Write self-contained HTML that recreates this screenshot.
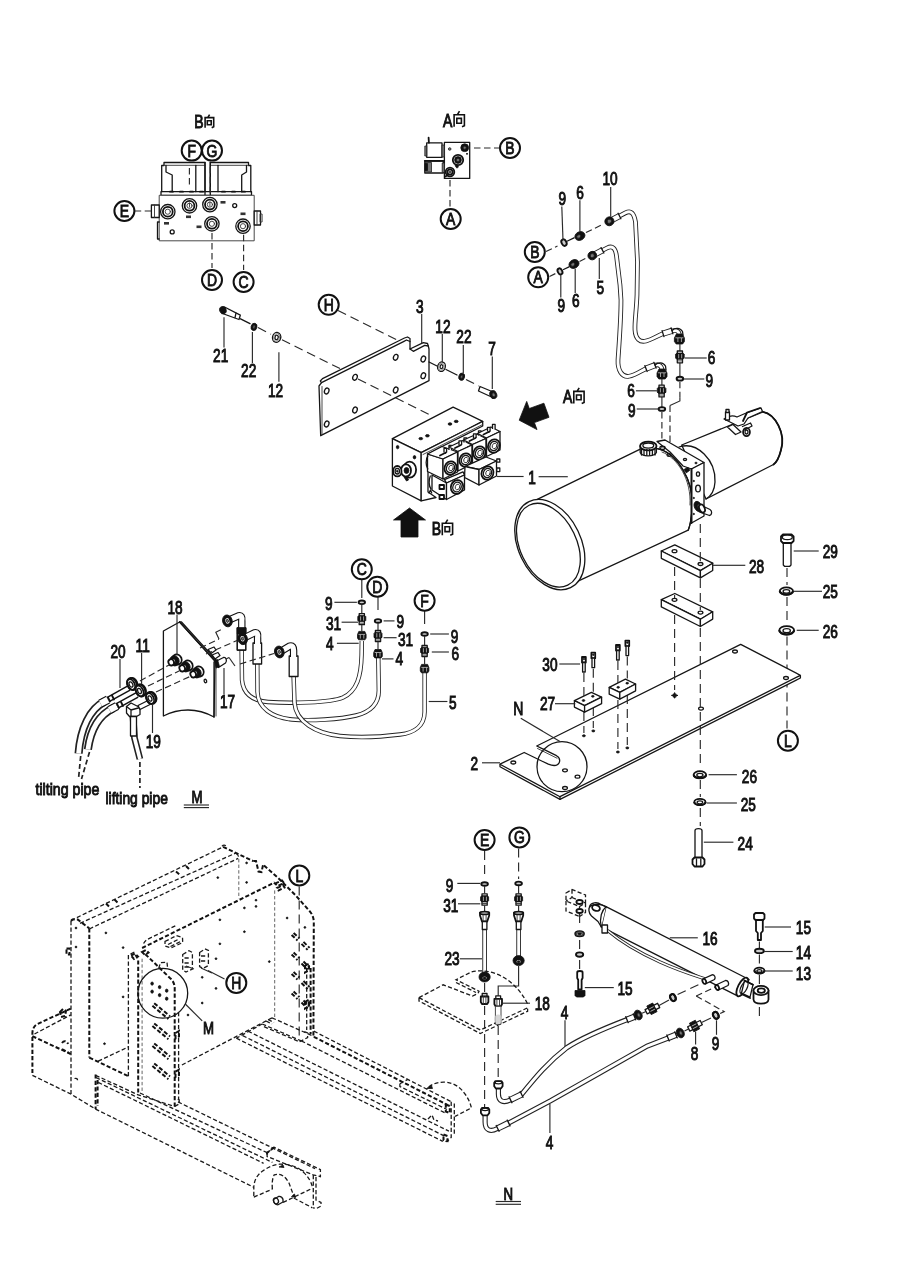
<!DOCTYPE html>
<html><head><meta charset="utf-8"><title>diagram</title>
<style>
html,body{margin:0;padding:0;background:#fff;}
svg{display:block;}
#all{filter:blur(0.5px);}
.l{fill:none;stroke:#151515;stroke-width:1.3;stroke-linecap:round;stroke-linejoin:round}
.lw{fill:#fff;stroke:#151515;stroke-width:1.3;stroke-linejoin:round}
.t{fill:none;stroke:#333;stroke-width:0.9;stroke-linecap:round;stroke-linejoin:round}
.tw{fill:#fff;stroke:#333;stroke-width:0.9;stroke-linejoin:round}
.b{fill:none;stroke:#111;stroke-width:1.8;stroke-linecap:round;stroke-linejoin:round}
.bw{fill:#fff;stroke:#111;stroke-width:1.8;stroke-linejoin:round}
.k{fill:#111;stroke:#111;stroke-width:0.8;stroke-linejoin:round}
.g{fill:#777;stroke:#222;stroke-width:0.8}
.c{fill:#fff;stroke:#111;stroke-width:2}
.o{fill:#ccc;stroke:#111;stroke-width:1.9}
.d{fill:none;stroke:#2a2a2a;stroke-width:1.15;stroke-dasharray:6.5 3.5}
.dd{fill:none;stroke:#2a2a2a;stroke-width:1.15;stroke-dasharray:9 5}
.f{fill:none;stroke:#1a1a1a;stroke-width:1.3;stroke-dasharray:4.2 2.3}
.fb{fill:none;stroke:#111;stroke-width:2;stroke-dasharray:4.2 2.2}
.ft{fill:none;stroke:#555;stroke-width:0.9;stroke-dasharray:3.4 2.2}
.dt{fill:none;stroke:#222;stroke-width:1.7;stroke-dasharray:5 3}
.ld{fill:none;stroke:#2a2a2a;stroke-width:1.15}
.tx{font-family:"Liberation Sans",sans-serif;fill:#111;stroke:#111;stroke-width:0.95}
.xg{fill:none;stroke:#111;stroke-width:1.6}
.h{fill:none;stroke:#222;stroke-width:4.6;stroke-linecap:butt}
.hi{fill:none;stroke:#fff;stroke-width:2.9;stroke-linecap:butt}
.hl{fill:none;stroke:#ddd;stroke-width:0.7}
</style></head><body>
<svg width="900" height="1272" viewBox="0 0 900 1272">
<rect x="0" y="0" width="900" height="1272" fill="#fff"/>
<g id="all">
<!-- B view -->
<text class="tx" transform="translate(194.2 127.8) scale(0.8 1)" font-size="17.5" text-anchor="start">B</text>
<path class="xg" d="M209.6 114.6L207.7 117.6M205.1 127.8L205.1 117.6L213.7 117.6L213.7 126.8L211.7 127.8M207.3 120.7L211.2 120.7L211.2 124.8L207.3 124.8Z"/>
<path class="l" d="M161.7 191.7L161.7 165.5L164 165.5L164 162.5L205 162.5L205 191.7"/>
<path class="l" d="M210.3 191.7L210.3 162.5L248.5 162.5L248.5 165.5L250.8 165.5L250.8 191.7"/>
<path class="t" d="M164 165.3L205 165.3"/>
<path class="t" d="M210.3 165.3L248.5 165.3"/>
<path class="l" d="M166 165.5L166 172L172.2 175L172.2 191.7"/>
<path class="l" d="M246.5 165.5L246.5 172L241.7 175L241.7 191.7"/>
<path class="l" d="M195.8 165.3L195.8 191.7"/>
<path class="l" d="M218 165.3L218 191.7"/>
<path class="l" d="M205 162.5L205 195"/>
<path class="l" d="M210.3 162.5L210.3 195"/>
<path class="l" d="M161 191.7H251.5V195.3H161Z"/>
<path class="b" d="M170 191.7L173 191.7"/>
<path class="b" d="M180 191.7L183 191.7"/>
<path class="b" d="M190 191.7L193 191.7"/>
<path class="b" d="M200 191.7L203 191.7"/>
<path class="b" d="M222 191.7L225 191.7"/>
<path class="b" d="M232 191.7L235 191.7"/>
<path class="b" d="M242 191.7L245 191.7"/>
<path class="tw" d="M159.2 195.3H254.2V240.8H159.2Z"/>
<path class="l" d="M159.2 222L157.5 222L157.5 239L159.2 239"/>
<path class="lw" d="M151.4 205H159.2V217.5H151.4Z"/>
<path class="t" d="M154.5 205L154.5 217.5"/>
<path class="lw" d="M254.2 211H260.5V225H254.2Z"/>
<path class="t" d="M257 211L257 225"/>
<path class="t" d="M260.5 214h1.6v8h-1.6z"/>
<circle class="lw" cx="167.8" cy="211.7" r="7.2"/>
<circle class="b" cx="167.8" cy="211.7" r="4.9"/>
<circle class="t" cx="167.8" cy="211.7" r="2.6"/>
<circle class="lw" cx="189.5" cy="205.8" r="7.2"/>
<circle class="b" cx="189.5" cy="205.8" r="4.9"/>
<circle class="t" cx="189.5" cy="205.8" r="2.6"/>
<circle class="lw" cx="209.9" cy="204.6" r="7.2"/>
<circle class="b" cx="209.9" cy="204.6" r="4.9"/>
<circle class="t" cx="209.9" cy="204.6" r="2.6"/>
<circle class="lw" cx="211.9" cy="223.8" r="7.2"/>
<circle class="b" cx="211.9" cy="223.8" r="4.9"/>
<circle class="t" cx="211.9" cy="223.8" r="2.6"/>
<circle class="lw" cx="243" cy="226.2" r="7.2"/>
<circle class="b" cx="243" cy="226.2" r="4.9"/>
<circle class="t" cx="243" cy="226.2" r="2.6"/>
<circle class="l" cx="234.7" cy="205.6" r="2"/>
<circle class="l" cx="172.2" cy="231.9" r="2"/>
<rect x="164" y="222" width="5" height="2.6" fill="#333"/>
<rect x="186" y="215.5" width="5" height="2.6" fill="#333"/>
<rect x="220.5" y="201" width="5" height="2.6" fill="#333"/>
<rect x="196.5" y="225.5" width="5" height="2.6" fill="#333"/>
<rect x="240.5" y="212.5" width="5" height="2.6" fill="#333"/>
<path class="d" d="M189.4 168L189.4 186"/>
<path class="d" d="M210.3 166.7L210.3 194.4"/>
<path class="t" d="M189.5 203L189.5 207"/>
<path class="t" d="M209.9 202L209.9 206"/>
<path class="d" d="M134.7 211L151.4 211"/>
<path class="d" d="M212 233L212 268"/>
<path class="d" d="M243.6 234.7L243.6 270"/>
<circle class="c" cx="191.7" cy="150.6" r="10"/>
<text class="tx" transform="translate(191.7 156.6) scale(0.82 1)" font-size="17" text-anchor="middle" style="stroke-width:0.9">F</text>
<circle class="c" cx="212" cy="150.6" r="10"/>
<text class="tx" transform="translate(212 156.6) scale(0.82 1)" font-size="17" text-anchor="middle" style="stroke-width:0.9">G</text>
<circle class="c" cx="124.4" cy="211" r="10"/>
<text class="tx" transform="translate(124.4 217) scale(0.82 1)" font-size="17" text-anchor="middle" style="stroke-width:0.9">E</text>
<circle class="c" cx="212" cy="280" r="10"/>
<text class="tx" transform="translate(212 286) scale(0.82 1)" font-size="17" text-anchor="middle" style="stroke-width:0.9">D</text>
<circle class="c" cx="243.6" cy="282" r="10"/>
<text class="tx" transform="translate(243.6 288) scale(0.82 1)" font-size="17" text-anchor="middle" style="stroke-width:0.9">C</text>
<!-- A view -->
<text class="tx" transform="translate(443 127) scale(0.8 1)" font-size="17.5" text-anchor="start">A</text>
<path class="xg" d="M459.5 111.2L457.3 114.8M454.1 126.8L454.1 114.8L464.4 114.8L464.4 125.8L462 126.8M456.8 118.4L461.4 118.4L461.4 123.2L456.8 123.2Z"/>
<path class="lw" d="M444.4 142.4H469.7V178.4H444.4Z"/>
<path class="lw" d="M426.7 142.9H442V157.3H426.7Z"/>
<path class="g" d="M424.8 146H426.7V156H424.8Z"/>
<path class="g" d="M442 145H444.4V157H442Z"/>
<path class="b" d="M428.9 142.7L428.6 137.6"/>
<path class="lw" d="M424.8 161H443.3V173H424.8Z"/>
<path class="g" d="M424.8 162.5H431.5V172H424.8Z"/>
<path class="b" d="M424.8 160.8H443.3"/>
<path class="k" d="M425 163.5h2.5v7h-2.5z"/>
<path class="g" d="M442.2 163H444.4V172.5H442.2Z"/>
<circle class="k" cx="464.7" cy="147.7" r="3.9"/>
<circle class="g" cx="464.7" cy="147.7" r="1.5"/>
<rect x="466" y="153" width="2" height="1.6" fill="#333"/>
<circle class="bw" cx="458" cy="160" r="5.2"/>
<circle class="k" cx="458" cy="160" r="3.4"/>
<circle class="g" cx="458" cy="160" r="1.6"/>
<path class="k" d="M455 165.5l1.8 2.6l1.6 -1l-1 -2.4z"/>
<circle class="bw" cx="450" cy="172" r="4.3"/>
<circle class="b" cx="450" cy="172" r="2.6"/>
<circle class="g" cx="450" cy="172" r="1"/>
<path class="b" d="M445.5 176.5l2 -1.5"/>
<circle class="g" cx="449.7" cy="149" r="1.3"/>
<path class="d" d="M474 148L499 148"/>
<path class="d" d="M450 180L450 208"/>
<circle class="c" cx="510" cy="148" r="10"/>
<text class="tx" transform="translate(510 154) scale(0.82 1)" font-size="17" text-anchor="middle" style="stroke-width:0.9">B</text>
<circle class="c" cx="450.7" cy="219" r="10"/>
<text class="tx" transform="translate(450.7 225) scale(0.82 1)" font-size="17" text-anchor="middle" style="stroke-width:0.9">A</text>
<!-- pipes 10 and 5 -->
<path d="M611.5 220.2L625.5 212.8C631 210 634 213 635.5 222L637.5 262L637 295C636.5 310 634.5 322 635 330C635.5 339 640 342.5 646 341C652 339.5 657 336 663 333.6L671 331.2C676 329.5 679 331 679.4 335" fill="none" stroke="#222" stroke-width="4.7"/>
<path d="M611.5 220.2L625.5 212.8C631 210 634 213 635.5 222L637.5 262L637 295C636.5 310 634.5 322 635 330C635.5 339 640 342.5 646 341C652 339.5 657 336 663 333.6L671 331.2C676 329.5 679 331 679.4 335" fill="none" stroke="#fff" stroke-width="2.9"/>
<path d="M594.5 254.5L607 248C612.5 245.3 615.5 248 616.5 256L620 285L621 300C621 320 619 345 618 360C617.5 370 622 377.5 629 376.3C635 375.3 641 371 646 368.6L654 365.5C658 364 661.5 365 662 370" fill="none" stroke="#222" stroke-width="4.7"/>
<path d="M594.5 254.5L607 248C612.5 245.3 615.5 248 616.5 256L620 285L621 300C621 320 619 345 618 360C617.5 370 622 377.5 629 376.3C635 375.3 641 371 646 368.6L654 365.5C658 364 661.5 365 662 370" fill="none" stroke="#fff" stroke-width="2.9"/>
<path d="M611.5 220.2L619.5 216" stroke="#222" stroke-width="6.2" fill="none"/>
<path d="M611.5 220.2L619.5 216" stroke="#fff" stroke-width="4.4" fill="none"/>
<path class="l" d="M612.9 222.9L610.1 217.5"/>
<path class="l" d="M620.9 218.7L618.1 213.3"/>
<path d="M594.5 254.5L602.5 250.3" stroke="#222" stroke-width="6.2" fill="none"/>
<path d="M594.5 254.5L602.5 250.3" stroke="#fff" stroke-width="4.4" fill="none"/>
<path class="l" d="M595.9 257.2L593.1 251.8"/>
<path class="l" d="M603.9 253L601.1 247.6"/>
<path d="M663 333.6L672 330.8" stroke="#222" stroke-width="6.2" fill="none"/>
<path d="M663 333.6L672 330.8" stroke="#fff" stroke-width="4.4" fill="none"/>
<path class="l" d="M663.9 336.6L662.1 330.6"/>
<path class="l" d="M672.9 333.8L671.1 327.8"/>
<path d="M646 368.6L655 365.2" stroke="#222" stroke-width="6.2" fill="none"/>
<path d="M646 368.6L655 365.2" stroke="#fff" stroke-width="4.4" fill="none"/>
<path class="l" d="M647.1 371.5L644.9 365.7"/>
<path class="l" d="M656.1 368.1L653.9 362.3"/>
<ellipse class="k" cx="609.4" cy="221.3" rx="4.6" ry="4.4" transform="rotate(-27 609.4 221.3)"/>
<ellipse class="g" cx="609.4" cy="221.3" rx="2.1" ry="2" transform="rotate(-27 609.4 221.3)"/>
<ellipse class="k" cx="592.3" cy="255.6" rx="4.4" ry="4.2" transform="rotate(-27 592.3 255.6)"/>
<ellipse class="g" cx="592.3" cy="255.6" rx="2" ry="1.9" transform="rotate(-27 592.3 255.6)"/>
<ellipse class="k" cx="579.9" cy="236" rx="5.2" ry="4.2" transform="rotate(-27 579.9 236)"/>
<ellipse class="g" cx="578.7" cy="236.5" rx="2" ry="1.6" transform="rotate(-27 578.7 236.5)"/>
<ellipse class="k" cx="574" cy="264" rx="5.2" ry="4.2" transform="rotate(-27 574 264)"/>
<ellipse class="g" cx="572.8" cy="264.5" rx="2" ry="1.6" transform="rotate(-27 572.8 264.5)"/>
<ellipse class="o" cx="564" cy="242.6" rx="2.4" ry="3.4" transform="rotate(-27 564 242.6)"/>
<ellipse class="o" cx="560" cy="271.4" rx="2.2" ry="3.2" transform="rotate(-27 560 271.4)"/>
<path class="d" d="M546 251.5L557.5 246"/>
<path class="l" d="M567.5 241L574 237.8"/>
<path class="d" d="M586 232.6L604 223.8"/>
<path class="d" d="M549.5 276.5L556 273.3"/>
<path class="l" d="M563.5 269.5L569 266.8"/>
<path class="d" d="M579.5 261.5L588 257.2"/>
<circle class="c" cx="534.8" cy="252" r="10"/>
<text class="tx" transform="translate(534.8 258) scale(0.82 1)" font-size="17" text-anchor="middle" style="stroke-width:0.9">B</text>
<circle class="c" cx="538.2" cy="277.3" r="10"/>
<text class="tx" transform="translate(538.2 283.3) scale(0.82 1)" font-size="17" text-anchor="middle" style="stroke-width:0.9">A</text>
<text class="tx" transform="translate(602.4 184.8) scale(0.78 1)" font-size="17.5" text-anchor="start">10</text>
<path class="ld" d="M610.7 187L610.7 216.7"/>
<text class="tx" transform="translate(576.3 198.8) scale(0.78 1)" font-size="17.5" text-anchor="start">6</text>
<path class="ld" d="M579.9 200.3L579.9 231.4"/>
<text class="tx" transform="translate(558.6 205) scale(0.78 1)" font-size="17.5" text-anchor="start">9</text>
<path class="ld" d="M561.8 206.6L563 240"/>
<text class="tx" transform="translate(596.5 293.7) scale(0.78 1)" font-size="17.5" text-anchor="start">5</text>
<path class="ld" d="M599.3 257.9L599.3 278.9"/>
<text class="tx" transform="translate(572 306.9) scale(0.78 1)" font-size="17.5" text-anchor="start">6</text>
<path class="ld" d="M575.2 268.8L575.2 292.9"/>
<text class="tx" transform="translate(557.6 311.6) scale(0.78 1)" font-size="17.5" text-anchor="start">9</text>
<path class="ld" d="M560.8 275L560.8 297.6"/>
<path class="k" d="M676.4 334H682.4L684.4 338V341.5L682.6 344H676.2L674.4 341.5V338Z"/>
<path class="hl" d="M677.9 338L677.9 342"/>
<path class="hl" d="M681.4 338L681.4 342"/>
<path class="hl" d="M675.4 337.8L683.4 337.8"/>
<path class="k" d="M659 369H665L667 373V376.5L665.2 379H658.8L657 376.5V373Z"/>
<path class="hl" d="M660.5 373L660.5 377"/>
<path class="hl" d="M664 373L664 377"/>
<path class="hl" d="M658 372.8L666 372.8"/>
<path class="l" d="M672 330.5C675 327.5 680 327.5 682.5 331.5L683 335"/>
<path class="l" d="M655 365C658 362 663 362 665.5 366L666 370"/>
<path class="ld" d="M679.9 344L679.9 351"/>
<path class="ld" d="M679.9 363L679.9 376.5"/>
<path class="ld" d="M661.9 379L661.9 385"/>
<path class="ld" d="M661.9 397L661.9 407"/>
<path class="lw" d="M677.3 351H682.5V362.8H677.3Z"/>
<path class="k" d="M675.6 354.3L676.8 353.1H683L684.2 354.3V358.1L683 359.3H676.8L675.6 358.1Z"/>
<path class="hl" d="M678.7 354.1L678.7 358.3"/>
<path class="hl" d="M681.7 354.1L681.7 358.3"/>
<path class="t" d="M677.3 360.9L682.5 360.9"/>
<path class="lw" d="M659 385.1H664.2V396.9H659Z"/>
<path class="k" d="M657.3 388.4L658.5 387.2H664.7L665.9 388.4V392.2L664.7 393.4H658.5L657.3 392.2Z"/>
<path class="hl" d="M660.4 388.2L660.4 392.4"/>
<path class="hl" d="M663.4 388.2L663.4 392.4"/>
<path class="t" d="M659 395L664.2 395"/>
<ellipse class="o" cx="679.9" cy="378.7" rx="3.3" ry="1.9"/>
<ellipse class="o" cx="661.9" cy="409" rx="3.3" ry="1.9"/>
<text class="tx" transform="translate(707.8 364.4) scale(0.78 1)" font-size="17.5" text-anchor="start">6</text>
<path class="ld" d="M684.9 358L706.7 358"/>
<text class="tx" transform="translate(705.4 386.8) scale(0.78 1)" font-size="17.5" text-anchor="start">9</text>
<path class="ld" d="M684 379L704.3 379"/>
<text class="tx" transform="translate(627.3 397) scale(0.78 1)" font-size="17.5" text-anchor="start">6</text>
<path class="ld" d="M635.9 390.8L656.9 390.8"/>
<text class="tx" transform="translate(628 416.8) scale(0.78 1)" font-size="17.5" text-anchor="start">9</text>
<path class="ld" d="M636.7 409L658.4 409"/>
<path class="d" d="M679.9 381.8L679.9 397.3"/>
<path class="ld" d="M679.9 397.3V401L670 405.5"/>
<path class="d" d="M670 405.5L670 452"/>
<path class="d" d="M661.9 412L661.9 448"/>
<!-- plate 3 -->
<path class="dd" d="M338 310.5L398 340.5"/>
<path class="lw" d="M320.7 435.7L319 386L321.5 382.7L404 341.3L406.5 340L410 341.5L410 349L413.3 351.3L424.7 345.3L428.3 346L429 349L429 380.7Z"/>
<path class="l" d="M321.5 382.7L320.3 381L322.5 378.6L404.5 338L407.5 337L410 338.5V341.5"/>
<path class="l" d="M410 349L423.3 342.7L427.5 343.5L428.3 346"/>
<path class="t" d="M322 386.5V434.5"/>
<ellipse class="l" cx="326.7" cy="391" rx="2.2" ry="3" transform="rotate(20 326.7 391)"/>
<ellipse class="l" cx="326.7" cy="424" rx="2.2" ry="3" transform="rotate(20 326.7 424)"/>
<ellipse class="l" cx="355" cy="377.3" rx="2.2" ry="3" transform="rotate(20 355 377.3)"/>
<ellipse class="l" cx="355" cy="410" rx="2.2" ry="3" transform="rotate(20 355 410)"/>
<ellipse class="l" cx="395.7" cy="357.3" rx="2.2" ry="3" transform="rotate(20 395.7 357.3)"/>
<ellipse class="l" cx="395.7" cy="390" rx="2.2" ry="3" transform="rotate(20 395.7 390)"/>
<ellipse class="l" cx="423.3" cy="359" rx="2.2" ry="3" transform="rotate(20 423.3 359)"/>
<ellipse class="l" cx="423.3" cy="375.7" rx="2.2" ry="3" transform="rotate(20 423.3 375.7)"/>
<path class="l" d="M240.5 318.8L250 323.6"/>
<path class="dd" d="M258 327.6L271 334.2"/>
<path class="dd" d="M282 339.7L340 368.6"/>
<path class="dd" d="M358 379L430 415"/>
<path class="l" d="M429 362L437 366"/>
<path class="l" d="M446 369.5L457 375"/>
<path class="dd" d="M466 379.5L479 386"/>
<path class="lw" d="M224.5 307L240.3 315.2L239 319.5L222.5 313.5Z"/>
<ellipse class="k" cx="222.9" cy="310.2" rx="3.2" ry="3.8" transform="rotate(-20 222.9 310.2)"/>
<path class="l" d="M236 313.2L235 317.6"/>
<ellipse class="k" cx="254" cy="326.9" rx="2.9" ry="3.7" transform="rotate(15 254 326.9)"/>
<ellipse class="g" cx="254" cy="326.9" rx="1" ry="1.6" transform="rotate(15 254 326.9)"/>
<ellipse class="lw" cx="276.6" cy="337.4" rx="4.1" ry="5" transform="rotate(15 276.6 337.4)"/>
<ellipse class="l" cx="276.6" cy="337.4" rx="1.6" ry="2.2" transform="rotate(15 276.6 337.4)"/>
<ellipse cx="276.6" cy="337.4" rx="3" ry="3.8" fill="none" stroke="#888" stroke-width="0.9" transform="rotate(15 276.6 337.4)"/>
<ellipse class="lw" cx="441.5" cy="366.7" rx="3.8" ry="4.8" transform="rotate(15 441.5 366.7)"/>
<ellipse class="l" cx="441.5" cy="366.7" rx="1.4" ry="2" transform="rotate(15 441.5 366.7)"/>
<ellipse cx="441.5" cy="366.7" rx="2.8" ry="3.6" fill="none" stroke="#888" stroke-width="0.9" transform="rotate(15 441.5 366.7)"/>
<ellipse class="k" cx="461.7" cy="376.7" rx="2.9" ry="3.7" transform="rotate(15 461.7 376.7)"/>
<ellipse class="g" cx="461.7" cy="376.7" rx="1" ry="1.5" transform="rotate(15 461.7 376.7)"/>
<path class="lw" d="M480 386.5L492 391.5L490.5 396.5L478.5 391Z"/>
<ellipse class="k" cx="493.3" cy="394.6" rx="3.4" ry="4.2" transform="rotate(-20 493.3 394.6)"/>
<ellipse class="g" cx="493.6" cy="394.8" rx="1.5" ry="2" transform="rotate(-20 493.6 394.8)"/>
<circle class="c" cx="328.7" cy="304.8" r="10"/>
<text class="tx" transform="translate(328.7 310.8) scale(0.82 1)" font-size="17" text-anchor="middle" style="stroke-width:0.9">H</text>
<text class="tx" transform="translate(213.1 361.9) scale(0.78 1)" font-size="17.5" text-anchor="start">21</text>
<path class="ld" d="M224 317.2L224 347.6"/>
<text class="tx" transform="translate(241.1 377.1) scale(0.78 1)" font-size="17.5" text-anchor="start">22</text>
<path class="ld" d="M252.4 332L252.4 363.1"/>
<text class="tx" transform="translate(268 397) scale(0.78 1)" font-size="17.5" text-anchor="start">12</text>
<path class="ld" d="M278.9 352.2L278.9 381.8"/>
<text class="tx" transform="translate(416 312.7) scale(0.78 1)" font-size="17.5" text-anchor="start">3</text>
<path class="ld" d="M421.7 314L421.7 343.3"/>
<text class="tx" transform="translate(435.3 332.7) scale(0.78 1)" font-size="17.5" text-anchor="start">12</text>
<path class="ld" d="M442.3 334L442.3 362.5"/>
<text class="tx" transform="translate(456.3 343.3) scale(0.78 1)" font-size="17.5" text-anchor="start">22</text>
<path class="ld" d="M463.3 345L463.3 373"/>
<text class="tx" transform="translate(488.3 355) scale(0.78 1)" font-size="17.5" text-anchor="start">7</text>
<path class="ld" d="M492.3 356.5L492.3 389"/>
<!-- valve block -->
<path class="lw" d="M392.4 438.6L453.1 407.1L482.7 421.4L421.2 452.6Z"/>
<path class="lw" d="M392.4 438.6L421.2 452.6L421.2 500.8L392.4 486Z"/>
<path class="lw" d="M421.2 452.6L482.7 421.4L482.7 426L440 447.5L428 454L428 492L436 497.5L421.2 500.8Z"/>
<path class="t" d="M423 454.5L482.7 424.5"/>
<ellipse class="k" cx="420.8" cy="438.6" rx="1.9" ry="1.2"/>
<ellipse class="k" cx="427.4" cy="435.8" rx="1.9" ry="1.2"/>
<ellipse class="k" cx="450" cy="424" rx="1.9" ry="1.2"/>
<ellipse class="k" cx="456.2" cy="421.4" rx="1.9" ry="1.2"/>
<ellipse class="k" cx="397.6" cy="447.1" rx="1.3" ry="1.7"/>
<ellipse class="k" cx="414.5" cy="457.2" rx="1.3" ry="1.7"/>
<ellipse class="bw" cx="409.6" cy="469.7" rx="6.5" ry="8"/>
<ellipse class="bw" cx="406" cy="470.5" rx="5" ry="6.2"/>
<ellipse class="k" cx="406.5" cy="470.5" rx="2.4" ry="3"/>
<ellipse class="bw" cx="397.3" cy="471.2" rx="4.2" ry="5.2"/>
<ellipse class="l" cx="397.3" cy="471.2" rx="2.2" ry="2.8"/>
<ellipse class="k" cx="397.3" cy="471.2" rx="0.8" ry="1"/>
<path class="k" d="M404 477L406.5 481L408.5 480L407 476Z"/>
<path class="lw" d="M427.5 454L443 459L443 479L427.5 471.5Z"/>
<path class="lw" d="M427.5 454L442 446.5L457.5 452L443 459Z"/>
<path class="l" d="M427.8 456C425.6 459 425.6 466 427.8 469"/>
<path class="lw" d="M443 459L457.5 452L457.5 472L443 479Z"/>
<ellipse class="bw" cx="450.5" cy="468" rx="5.9" ry="6.8" transform="rotate(20 450.5 468)"/>
<ellipse class="l" cx="450.5" cy="468" rx="4" ry="4.7" transform="rotate(20 450.5 468)"/>
<ellipse class="t" cx="451" cy="468" rx="2.2" ry="2.8" transform="rotate(20 451 468)"/>
<path class="lw" d="M444 452.5v-4.2h2.6v4.2M449 449.9v-4.6h2.6v4.6"/>
<path class="b" d="M440 455.5l6 -3"/>
<path class="lw" d="M458 451.5L472 445L463 440.5L449 447Z"/>
<path class="lw" d="M458 451.5L472 445L472 464L458 471Z"/>
<ellipse class="bw" cx="465.5" cy="460" rx="5.9" ry="6.8" transform="rotate(20 465.5 460)"/>
<ellipse class="l" cx="465.5" cy="460" rx="4" ry="4.7" transform="rotate(20 465.5 460)"/>
<ellipse class="t" cx="466" cy="460" rx="2.2" ry="2.8" transform="rotate(20 466 460)"/>
<path class="lw" d="M459 445v-4.2h2.6v4.2M464 442.4v-4.6h2.6v4.6"/>
<path class="b" d="M455 448l6 -3"/>
<path class="lw" d="M472.5 444.5L486 438.5L477 434L463.5 440Z"/>
<path class="lw" d="M472.5 444.5L486 438.5L486 457L472.5 463.5Z"/>
<ellipse class="bw" cx="479.5" cy="453" rx="5.9" ry="6.8" transform="rotate(20 479.5 453)"/>
<ellipse class="l" cx="479.5" cy="453" rx="4" ry="4.7" transform="rotate(20 479.5 453)"/>
<ellipse class="t" cx="480" cy="453" rx="2.2" ry="2.8" transform="rotate(20 480 453)"/>
<path class="lw" d="M473.5 438v-4.2h2.6v4.2M478.5 435.4v-4.6h2.6v4.6"/>
<path class="b" d="M469.5 441l6 -3"/>
<path class="lw" d="M486.5 438L500 431.5L491 427L477.5 433.5Z"/>
<path class="lw" d="M486.5 438L500 431.5L500 450L486.5 456.5Z"/>
<ellipse class="bw" cx="494" cy="446" rx="5.9" ry="6.8" transform="rotate(20 494 446)"/>
<ellipse class="l" cx="494" cy="446" rx="4" ry="4.7" transform="rotate(20 494 446)"/>
<ellipse class="t" cx="494.5" cy="446" rx="2.2" ry="2.8" transform="rotate(20 494.5 446)"/>
<path class="lw" d="M487.5 431.5v-4.2h2.6v4.2M492.5 428.9v-4.6h2.6v4.6"/>
<path class="b" d="M483.5 434.5l6 -3"/>
<path class="lw" d="M465 466.5L486 457L496.5 461L479 469.5Z"/>
<path class="lw" d="M465 466.5L479 469.5L479 485L464.5 477.5Z"/>
<path class="lw" d="M479 469.5L496.5 461L496.5 476L479 485Z"/>
<ellipse class="bw" cx="487.5" cy="473" rx="5.9" ry="6.8" transform="rotate(20 487.5 473)"/>
<ellipse class="l" cx="487.5" cy="473" rx="4" ry="4.7" transform="rotate(20 487.5 473)"/>
<ellipse class="t" cx="488" cy="473" rx="2.2" ry="2.8" transform="rotate(20 488 473)"/>
<path class="lw" d="M496.8 459h3v3.2h-3zM496.8 468h3v3.6h-3z"/>
<path class="lw" d="M444.5 479.6L463 471.8L464.5 475L446.5 483Z"/>
<path class="lw" d="M432 475L446.5 483L446.5 499.5L432 490Z"/>
<path class="lw" d="M446.5 483L464.5 475L464.5 490L446.5 499.5Z"/>
<ellipse class="bw" cx="457" cy="487" rx="6.1" ry="7" transform="rotate(20 457 487)"/>
<ellipse class="l" cx="457" cy="487" rx="4.1" ry="4.9" transform="rotate(20 457 487)"/>
<ellipse class="t" cx="457.5" cy="487" rx="2.2" ry="2.9" transform="rotate(20 457.5 487)"/>
<path class="bw" d="M439.5 485h4.5v4h-4.5zM439.5 495h4.5v4h-4.5z"/>
<path class="l" d="M430.3 476C428.5 480 428.8 486 431 489"/>
<path class="l" d="M429 493l1.5 -3l1.2 3"/>
<path class="ld" d="M497 476.5L523.6 476.5"/>
<text class="tx" transform="translate(528.3 483.8) scale(0.78 1)" font-size="17.5" text-anchor="start">1</text>
<path class="ld" d="M538.6 476.7L567.8 476.7"/>
<path class="k" d="M519.2 420.2L537 429.6L534.4 422.6L549 417.3L543.9 403.2L529.3 408.5L526.7 401.4Z"/>
<text class="tx" transform="translate(563 403.4) scale(0.8 1)" font-size="17.5" text-anchor="start">A</text>
<path class="xg" d="M579.2 387.8L577 391.4M573.8 403.4L573.8 391.4L584.1 391.4L584.1 402.4L581.7 403.4M576.5 395L581.1 395L581.1 399.8L576.5 399.8Z"/>
<path class="k" d="M409.5 508L393.5 520L401 520L401 537L418 537L418 520L425.5 520Z"/>
<text class="tx" transform="translate(431.7 535.2) scale(0.8 1)" font-size="17.5" text-anchor="start">B</text>
<path class="xg" d="M447.7 519.6L445.5 523.2M442.3 535.2L442.3 523.2L452.6 523.2L452.6 534.2L450.2 535.2M445 526.8L449.6 526.8L449.6 531.6L445 531.6Z"/>
<!-- tank -->
<path class="lw" d="M681.7 445L763 411.8C775 414 786 433 781 450C779 458 777 462 773.5 464.5L706 499Z"/>
<path class="b" d="M763 411.8C775 414 786 433 781 450C779 458 777 462 773.5 464.5"/>
<path class="l" d="M679 447C697 441 716 460 715 482C714.6 490 711 496 706 499"/>
<path class="lw" d="M534.2 500.9L641.8 448.3L656.4 448.3C676 452 695 480 692 510C691.2 520 690 526 688.2 530.2L562.3 588.4Z"/>
<ellipse class="lw" cx="549.8" cy="544.6" rx="47.8" ry="31.3" transform="rotate(64.2 549.8 544.6)"/>
<ellipse class="l" cx="548.4" cy="545.2" rx="44.4" ry="28.2" transform="rotate(64.2 548.4 545.2)"/>
<path class="l" d="M656.4 448.3C676 452 695 480 692 510C691.2 520 690 526 688.2 530.2"/>
<path class="t" d="M662 452C678 458 691.5 480 690 505"/>
<path class="lw" d="M657 441.5L665 440L704 462.5L691.5 469L683 466L670 452Z"/>
<path class="lw" d="M691.5 469L704 462.5L704 516L691.5 523Z"/>
<path class="b" d="M691.5 469L691.5 523"/>
<ellipse class="l" cx="662.5" cy="447.8" rx="2.6" ry="1.7"/>
<ellipse class="l" cx="669" cy="455" rx="2" ry="1.3"/>
<ellipse class="l" cx="685" cy="459.5" rx="1.6" ry="1.1"/>
<ellipse class="k" cx="696" cy="463" rx="1.2" ry="0.8"/>
<ellipse class="l" cx="698" cy="474" rx="1.6" ry="2.2"/>
<ellipse class="l" cx="698" cy="488.5" rx="2.4" ry="3.4"/>
<circle class="k" cx="693.8" cy="481" r="0.7"/>
<circle class="k" cx="693.8" cy="498" r="0.7"/>
<circle class="k" cx="693.8" cy="514" r="0.7"/>
<path class="k" d="M684 469.5l4 -2.2l1.8 3l-3.6 2.6z"/>
<path class="lw" d="M640.2 446V452.5C642 457 654 457 656.4 452.5V446Z"/>
<ellipse class="bw" cx="648.3" cy="446" rx="8.2" ry="4.4"/>
<ellipse class="l" cx="648.3" cy="445.6" rx="5.4" ry="2.6"/>
<path class="l" d="M641.5 449.5L641.5 455"/>
<path class="l" d="M644 449.5L644 455"/>
<path class="l" d="M646.8 449.5L646.8 455"/>
<path class="l" d="M649.6 449.5L649.6 455"/>
<path class="l" d="M652.4 449.5L652.4 455"/>
<path class="l" d="M655 449.5L655 455"/>
<path class="lw" d="M700.5 505L710 509.5C712.5 511 712 515 709.5 515.5L699.5 512Z"/>
<ellipse class="k" cx="698" cy="506.5" rx="3.6" ry="5.4" transform="rotate(-25 698 506.5)"/>
<ellipse class="g" cx="699.6" cy="507.2" rx="1.6" ry="3" transform="rotate(-25 699.6 507.2)"/>
<ellipse class="bw" cx="702" cy="508.5" rx="2.6" ry="4.2" transform="rotate(-25 702 508.5)"/>
<path class="lw" d="M724 419C728 416 733 415 737 417L745 413.5L761 408L762.5 411.5L748 418L744 424L738 426Z"/>
<path class="lw" d="M727.5 427L733 424.5L741 432L735.5 434.5Z"/>
<path class="lw" d="M725.5 412h4v8h-4z"/>
<path class="lw" d="M726 409.5h3v3h-3z"/>
<path class="b" d="M743 421L747 412.5L760 408"/>
<ellipse class="bw" cx="746.5" cy="432" rx="3.4" ry="4.2"/>
<ellipse class="l" cx="746.5" cy="432" rx="1.5" ry="2"/>
<path class="l" d="M742.5 426.5L750.5 423L752 426L744.5 430"/>
<!-- blocks 28 -->
<path class="lw" d="M661.3 599.6L674.8 593.5L712.7 611.8L700.4 619.2Z"/>
<path class="lw" d="M661.3 599.6L700.4 619.2L700.4 626.5L661.3 606.9Z"/>
<path class="lw" d="M700.4 619.2L712.7 611.8L712.7 619.1L700.4 626.5Z"/>
<ellipse class="l" cx="674.5" cy="599.8" rx="2.4" ry="1.5"/>
<ellipse class="l" cx="700.5" cy="612.6" rx="2.4" ry="1.5"/>
<path class="lw" d="M661.3 551L674.8 544.9L712.7 563.2L700.4 570.6Z"/>
<path class="lw" d="M661.3 551L700.4 570.6L700.4 577.9L661.3 558.3Z"/>
<path class="lw" d="M700.4 570.6L712.7 563.2L712.7 570.5L700.4 577.9Z"/>
<ellipse class="l" cx="674.5" cy="551.2" rx="2.4" ry="1.5"/>
<ellipse class="l" cx="700.5" cy="564" rx="2.4" ry="1.5"/>
<path class="ld" d="M730 565.3L745.3 565.3"/>
<path class="ld" d="M713 565.3L730 565.3"/>
<text class="tx" transform="translate(749 572.7) scale(0.78 1)" font-size="17.5" text-anchor="start">28</text>
<!-- bolt 29 etc -->
<path class="lw" d="M783.3 542.5H791V565L789.8 566.3H784.5L783.3 565Z"/>
<path class="bw" d="M781 536.5L783 534.5H791.5L793.6 536.5V541L791.5 543H783L781 541Z"/>
<ellipse class="l" cx="787.3" cy="537.3" rx="5" ry="2.4"/>
<path class="ld" d="M793.7 551L818.7 551"/>
<text class="tx" transform="translate(822.7 558.3) scale(0.78 1)" font-size="17.5" text-anchor="start">29</text>
<path class="dd" d="M787 568L787 585"/>
<path class="dd" d="M787 597L787 625"/>
<path class="dd" d="M787 636.5L787 728.5"/>
<ellipse class="bw" cx="786.4" cy="591" rx="6.6" ry="3.6"/>
<ellipse class="l" cx="786.4" cy="591.4" rx="3.3" ry="1.7"/>
<path d="M779.8 591A6.6 3.6 0 0 0 793 591" fill="none" stroke="#111" stroke-width="2.2"/>
<ellipse class="bw" cx="786.7" cy="630.3" rx="7.4" ry="4.2"/>
<ellipse class="l" cx="786.7" cy="630.7" rx="3.7" ry="2"/>
<path d="M779.3 630.3A7.4 4.2 0 0 0 794.1 630.3" fill="none" stroke="#111" stroke-width="2.2"/>
<path class="ld" d="M793.7 591.3L822 591.3"/>
<text class="tx" transform="translate(822.7 598) scale(0.78 1)" font-size="17.5" text-anchor="start">25</text>
<path class="ld" d="M796.7 630.3L818.7 630.3"/>
<text class="tx" transform="translate(822.7 638) scale(0.78 1)" font-size="17.5" text-anchor="start">26</text>
<circle class="c" cx="787.9" cy="740.7" r="10"/>
<text class="tx" transform="translate(787.9 746.7) scale(0.82 1)" font-size="17" text-anchor="middle" style="stroke-width:0.9">L</text>
<!-- plate 2 -->
<path class="lw" d="M500 764.2L500 766.8L560 799.4L800.4 678L800.4 675.3"/>
<path class="lw" d="M500 764.2L524.2 752.5L548.3 764.2Q557 767.6 559.4 762.2Q560.6 758 556.5 755.7L536.7 746L740.7 644.4L800.4 675.3L560 796.7Z"/>
<path class="l" d="M560 796.7L560 799.4"/>
<path class="t" d="M537.5 748.5L557 758.2"/>
<ellipse class="l" cx="513.3" cy="762.5" rx="2.4" ry="1.5"/>
<ellipse class="l" cx="565" cy="770.3" rx="2.4" ry="1.5"/>
<ellipse class="l" cx="577.5" cy="776.7" rx="2.4" ry="1.5"/>
<ellipse class="l" cx="565" cy="788" rx="2.4" ry="1.5"/>
<ellipse class="l" cx="735" cy="651.5" rx="2.4" ry="1.5"/>
<ellipse class="l" cx="786" cy="678" rx="2.4" ry="1.5"/>
<ellipse class="l" cx="701" cy="708.6" rx="2.4" ry="1.5"/>
<path class="l" d="M671.8 695.4H677.4M674.6 693V697.8"/>
<circle class="l" cx="674.6" cy="695.4" r="1.6"/>
<circle class="l" cx="562" cy="766.7" r="25"/>
<text class="tx" transform="translate(513.3 715) scale(0.8 1)" font-size="17.5" text-anchor="start">N</text>
<path class="ld" d="M520.8 718.3L560 741.5"/>
<path class="ld" d="M482 762.8L500 762.8"/>
<text class="tx" transform="translate(470.5 770) scale(0.78 1)" font-size="17.5" text-anchor="start">2</text>
<ellipse class="k" cx="583.9" cy="735.8" rx="1.5" ry="1"/>
<ellipse class="k" cx="593.3" cy="730.9" rx="1.5" ry="1"/>
<ellipse class="k" cx="617.9" cy="752" rx="1.5" ry="1"/>
<ellipse class="k" cx="627.3" cy="747.9" rx="1.5" ry="1"/>
<path class="dd" d="M583.9 712L583.9 733"/>
<path class="dd" d="M593.3 707L593.3 728"/>
<path class="dd" d="M617.9 700L617.9 749"/>
<path class="dd" d="M627.3 695L627.3 745"/>
<path class="lw" d="M574.4 700.6L591.4 692.3L601.6 697.2L584.6 705.6Z"/>
<path class="lw" d="M574.4 700.6L584.6 705.6L584.6 712.1L574.4 707.1Z"/>
<path class="lw" d="M584.6 705.6L601.6 697.2L601.6 703.7L584.6 712.1Z"/>
<path class="lw" d="M609.2 687.4L625.4 679.1L635.6 684L619.8 692.3Z"/>
<path class="lw" d="M609.2 687.4L619.8 692.3L619.8 699.1L609.2 694.2Z"/>
<path class="lw" d="M619.8 692.3L635.6 684L635.6 690.8L619.8 699.1Z"/>
<ellipse class="k" cx="583.5" cy="700.5" rx="1.3" ry="0.9"/>
<ellipse class="k" cx="592.8" cy="696.3" rx="1.3" ry="0.9"/>
<ellipse class="k" cx="618.2" cy="687.3" rx="1.3" ry="0.9"/>
<ellipse class="k" cx="627.2" cy="683.2" rx="1.3" ry="0.9"/>
<path class="bw" d="M582 657h3.8v5.5h-3.8z"/>
<path class="lw" d="M582.6 662.5h2.6v9.5h-2.6z"/>
<circle class="k" cx="583.9" cy="659" r="0.8"/>
<path class="dd" d="M583.9 673L583.9 697"/>
<path class="bw" d="M591.4 652.7h3.8v5.5h-3.8z"/>
<path class="lw" d="M592 658.2h2.6v9.5h-2.6z"/>
<circle class="k" cx="593.3" cy="654.7" r="0.8"/>
<path class="dd" d="M593.3 668.7L593.3 692.7"/>
<path class="bw" d="M616 645h3.8v5.5h-3.8z"/>
<path class="lw" d="M616.6 650.5h2.6v9.5h-2.6z"/>
<circle class="k" cx="617.9" cy="647" r="0.8"/>
<path class="dd" d="M617.9 661L617.9 683"/>
<path class="bw" d="M625.4 640.6h3.8v5.5h-3.8z"/>
<path class="lw" d="M626 646.1h2.6v9.5h-2.6z"/>
<circle class="k" cx="627.3" cy="642.6" r="0.8"/>
<path class="dd" d="M627.3 656.6L627.3 678.6"/>
<text class="tx" transform="translate(542.3 670.8) scale(0.78 1)" font-size="17.5" text-anchor="start">30</text>
<path class="ld" d="M559.3 664L580.1 664"/>
<text class="tx" transform="translate(540 710) scale(0.78 1)" font-size="17.5" text-anchor="start">27</text>
<path class="ld" d="M555 703.7L575.3 703.7"/>
<ellipse class="bw" cx="699.9" cy="774.7" rx="6.2" ry="3.5"/>
<ellipse class="l" cx="699.9" cy="775.1" rx="3.1" ry="1.7"/>
<path d="M693.7 774.7A6.2 3.5 0 0 0 706.1 774.7" fill="none" stroke="#111" stroke-width="2.2"/>
<ellipse class="bw" cx="699.9" cy="801.9" rx="5.6" ry="3.1"/>
<ellipse class="l" cx="699.9" cy="802.3" rx="2.8" ry="1.5"/>
<path d="M694.3 801.9A5.6 3.1 0 0 0 705.5 801.9" fill="none" stroke="#111" stroke-width="2.2"/>
<path class="ld" d="M708.6 774.7L736.9 774.7"/>
<text class="tx" transform="translate(741.8 783) scale(0.78 1)" font-size="17.5" text-anchor="start">26</text>
<path class="ld" d="M706.7 803L736.9 803"/>
<text class="tx" transform="translate(740.7 810.6) scale(0.78 1)" font-size="17.5" text-anchor="start">25</text>
<path class="lw" d="M695 830.5C695 828 702 828 702 830.5V858H695Z"/>
<path class="bw" d="M692.5 859.5L694.5 857.5H702.5L704.5 859.5V864L702.5 866.5H694.5L692.5 864Z"/>
<path class="l" d="M696.5 859L696.5 865.5"/>
<path class="l" d="M700.8 859L700.8 865.5"/>
<path class="ld" d="M703.8 842.2L733.4 842.2"/>
<text class="tx" transform="translate(737.6 849.5) scale(0.78 1)" font-size="17.5" text-anchor="start">24</text>
<path class="dd" d="M674.6 567L674.6 598"/>
<path class="dd" d="M674.6 615L674.6 690"/>
<path class="dd" d="M700.3 524L700.3 561"/>
<path class="dd" d="M700.3 579L700.3 610"/>
<path class="dd" d="M700.3 628L700.3 768"/>
<path class="dd" d="M700.3 780L700.3 797"/>
<path class="dd" d="M700.3 808L700.3 826"/>
<!-- M detail: plate 18 and hoses -->
<path d="M361.8 641L361.6 655C361.2 676 357 691 343 697.5C330 703 290 703.5 268 702C250 700.5 243 692 242 680L241.5 640" fill="none" stroke="#222" stroke-width="4.4"/>
<path d="M361.8 641L361.6 655C361.2 676 357 691 343 697.5C330 703 290 703.5 268 702C250 700.5 243 692 242 680L241.5 640" fill="none" stroke="#fff" stroke-width="2.7"/>
<path d="M378.3 658L378.8 690C379 704 370 712 356 715.5C340 719.5 310 721 292 719.5C272 717.5 258 708 257.5 692L257.3 664" fill="none" stroke="#222" stroke-width="4.4"/>
<path d="M378.3 658L378.8 690C379 704 370 712 356 715.5C340 719.5 310 721 292 719.5C272 717.5 258 708 257.5 692L257.3 664" fill="none" stroke="#fff" stroke-width="2.7"/>
<path d="M424.6 672L424.6 712C424.6 726 414 733 400 734.5C380 737 355 737.5 340 736C316 733.5 296 722 294.5 703L293.6 676" fill="none" stroke="#222" stroke-width="4.4"/>
<path d="M424.6 672L424.6 712C424.6 726 414 733 400 734.5C380 737 355 737.5 340 736C316 733.5 296 722 294.5 703L293.6 676" fill="none" stroke="#fff" stroke-width="2.7"/>
<path class="lw" d="M237.3 628H245.7V650H237.3Z"/>
<path class="lw" d="M253 643H261.6V664H253Z"/>
<path class="lw" d="M289.2 656H298V676.5H289.2Z"/>
<path d="M230.4 619.4L238.5 615.8Q242.5 614.8 241.8 620.8L241.8 629" fill="none" stroke="#111" stroke-width="7.4" stroke-linejoin="round"/>
<path d="M230.4 619.4L238.5 615.8Q242.5 614.8 241.8 620.8L241.8 629" fill="none" stroke="#fff" stroke-width="5.2" stroke-linejoin="round"/>
<ellipse class="k" cx="227.4" cy="620.9" rx="4.8" ry="6" transform="rotate(-15 227.4 620.9)"/>
<ellipse class="bw" cx="227.4" cy="620.9" rx="2.9" ry="3.7" transform="rotate(-15 227.4 620.9)"/>
<ellipse class="g" cx="227.4" cy="620.9" rx="1.2" ry="1.6" transform="rotate(-15 227.4 620.9)"/>
<path class="lw" d="M237.3 628H245.7V650H237.3Z"/>
<path d="M245.6 637.2L254.5 632.8Q258.5 631.8 257.6 637.8L257.6 644" fill="none" stroke="#111" stroke-width="7.4" stroke-linejoin="round"/>
<path d="M245.6 637.2L254.5 632.8Q258.5 631.8 257.6 637.8L257.6 644" fill="none" stroke="#fff" stroke-width="5.2" stroke-linejoin="round"/>
<ellipse class="k" cx="242.6" cy="638.7" rx="4.8" ry="6" transform="rotate(-15 242.6 638.7)"/>
<ellipse class="bw" cx="242.6" cy="638.7" rx="2.9" ry="3.7" transform="rotate(-15 242.6 638.7)"/>
<ellipse class="g" cx="242.6" cy="638.7" rx="1.2" ry="1.6" transform="rotate(-15 242.6 638.7)"/>
<path d="M282.3 650.5L289.8 646Q293.8 645 293.6 651L293.6 657" fill="none" stroke="#111" stroke-width="7.4" stroke-linejoin="round"/>
<path d="M282.3 650.5L289.8 646Q293.8 645 293.6 651L293.6 657" fill="none" stroke="#fff" stroke-width="5.2" stroke-linejoin="round"/>
<ellipse class="k" cx="279.3" cy="652" rx="4.8" ry="6" transform="rotate(-15 279.3 652)"/>
<ellipse class="bw" cx="279.3" cy="652" rx="2.9" ry="3.7" transform="rotate(-15 279.3 652)"/>
<ellipse class="g" cx="279.3" cy="652" rx="1.2" ry="1.6" transform="rotate(-15 279.3 652)"/>
<path class="k" d="M237.3 628H245.7V634H237.3Z"/>
<ellipse class="o" cx="361.8" cy="602.3" rx="3.2" ry="1.8"/>
<path class="lw" d="M359.2 613.7H364.4V624.7H359.2Z"/>
<path class="k" d="M357.8 616.6L359 615.4H364.6L365.8 616.6V620.4L364.6 621.6H359L357.8 620.4Z"/>
<path class="hl" d="M360.6 616.4L360.6 620.6"/>
<path class="hl" d="M363.6 616.4L363.6 620.6"/>
<path class="t" d="M359.2 623.2L364.4 623.2"/>
<path class="k" d="M358.8 631.4H364.8L366.1 634.6V638.1L365 639.8H358.6L357.5 638.1V634.6Z"/>
<path class="hl" d="M360.3 634.6L360.3 638.6"/>
<path class="hl" d="M363.8 634.6L363.8 638.6"/>
<path class="hl" d="M358.5 634.4L365.1 634.4"/>
<path class="ld" d="M361.8 604.3L361.8 613.2"/>
<path class="ld" d="M361.8 624.7L361.8 631.6"/>
<ellipse class="o" cx="378" cy="620.9" rx="3.2" ry="1.8"/>
<path class="lw" d="M375.4 630.5H380.6V641.5H375.4Z"/>
<path class="k" d="M374 633.4L375.2 632.2H380.8L382 633.4V637.2L380.8 638.4H375.2L374 637.2Z"/>
<path class="hl" d="M376.8 633.2L376.8 637.4"/>
<path class="hl" d="M379.8 633.2L379.8 637.4"/>
<path class="t" d="M375.4 640L380.6 640"/>
<path class="k" d="M375 649.5H381L382.3 652.7V656.2L381.2 657.9H374.8L373.7 656.2V652.7Z"/>
<path class="hl" d="M376.5 652.7L376.5 656.7"/>
<path class="hl" d="M380 652.7L380 656.7"/>
<path class="hl" d="M374.7 652.5L381.3 652.5"/>
<path class="ld" d="M378 622.9L378 630"/>
<path class="ld" d="M378 641.5L378 649.7"/>
<ellipse class="o" cx="424.6" cy="634" rx="3.2" ry="1.8"/>
<path class="lw" d="M422 645.5H427.2V656.5H422Z"/>
<path class="k" d="M420.6 648.4L421.8 647.2H427.4L428.6 648.4V652.2L427.4 653.4H421.8L420.6 652.2Z"/>
<path class="hl" d="M423.4 648.2L423.4 652.4"/>
<path class="hl" d="M426.4 648.2L426.4 652.4"/>
<path class="t" d="M422 655L427.2 655"/>
<path class="k" d="M421.6 664.4H427.6L428.9 667.6V671.1L427.8 672.8H421.4L420.3 671.1V667.6Z"/>
<path class="hl" d="M423.1 667.6L423.1 671.6"/>
<path class="hl" d="M426.6 667.6L426.6 671.6"/>
<path class="hl" d="M421.3 667.4L427.9 667.4"/>
<path class="ld" d="M424.6 636L424.6 645"/>
<path class="ld" d="M424.6 656.5L424.6 664.6"/>
<path class="ld" d="M361.8 580L361.8 598"/>
<path class="ld" d="M378 597L378 610"/>
<path class="ld" d="M424.6 611L424.6 624"/>
<circle class="c" cx="361.8" cy="569.3" r="10"/>
<text class="tx" transform="translate(361.8 575.3) scale(0.82 1)" font-size="17" text-anchor="middle" style="stroke-width:0.9">C</text>
<circle class="c" cx="377.3" cy="586.7" r="10"/>
<text class="tx" transform="translate(377.3 592.7) scale(0.82 1)" font-size="17" text-anchor="middle" style="stroke-width:0.9">D</text>
<circle class="c" cx="424.6" cy="600.7" r="10"/>
<text class="tx" transform="translate(424.6 606.7) scale(0.82 1)" font-size="17" text-anchor="middle" style="stroke-width:0.9">F</text>
<text class="tx" transform="translate(325 609.7) scale(0.78 1)" font-size="17.5" text-anchor="start">9</text>
<path class="ld" d="M334.4 602.3L356.9 602.3"/>
<text class="tx" transform="translate(326 630) scale(0.78 1)" font-size="17.5" text-anchor="start">31</text>
<path class="ld" d="M341.6 622.2L358 622.2"/>
<text class="tx" transform="translate(326 650) scale(0.78 1)" font-size="17.5" text-anchor="start">4</text>
<path class="ld" d="M336.9 643.3L358.7 643.3"/>
<text class="tx" transform="translate(396.6 628) scale(0.78 1)" font-size="17.5" text-anchor="start">9</text>
<path class="ld" d="M383.6 620.9L394.5 620.9"/>
<text class="tx" transform="translate(398 645.8) scale(0.78 1)" font-size="17.5" text-anchor="start">31</text>
<path class="ld" d="M383.6 637.7L396.6 637.7"/>
<text class="tx" transform="translate(395.4 665) scale(0.78 1)" font-size="17.5" text-anchor="start">4</text>
<path class="ld" d="M382 658.9L393.5 658.9"/>
<text class="tx" transform="translate(450.8 642.7) scale(0.78 1)" font-size="17.5" text-anchor="start">9</text>
<path class="ld" d="M430.2 634L448.9 634"/>
<text class="tx" transform="translate(451.4 660) scale(0.78 1)" font-size="17.5" text-anchor="start">6</text>
<path class="ld" d="M431.8 652L448.9 652"/>
<text class="tx" transform="translate(449 709) scale(0.78 1)" font-size="17.5" text-anchor="start">5</text>
<path class="ld" d="M428.7 701.5L447.4 701.5"/>
<path class="lw" d="M163.4 631L179.6 622L215 661L214 717C205 712 196 710 188 710C180 710 171 712 163.4 716Z"/>
<path class="l" d="M179.6 622L181.5 622L216 660L215 661"/>
<path class="l" d="M214 662L214 717"/>
<path class="t" d="M216 661.5L216 716"/>
<path class="l" d="M179.6 622L215 661"/>
<path class="lw" d="M208 649.5l6 -2.5l2 3l-5 3.5z"/>
<path class="lw" d="M212 655l6 -2.5l2 3l-5 3.5z"/>
<path class="lw" d="M216.5 661L223.5 657.5C226 657 227.5 661 225.5 663L218.5 667.5Z"/>
<path class="k" d="M214.5 660.5l3 -1l2 7l-3.4 1.6z"/>
<ellipse class="bw" cx="177" cy="659.5" rx="4.6" ry="5.2" transform="rotate(-20 177 659.5)"/>
<ellipse class="k" cx="174.5" cy="660.8" rx="4.6" ry="5.2" transform="rotate(-20 174.5 660.8)"/>
<ellipse class="bw" cx="173.2" cy="661.4" rx="2.8" ry="3.3" transform="rotate(-20 173.2 661.4)"/>
<ellipse class="bw" cx="171.2" cy="662.3" rx="2.8" ry="3.2" transform="rotate(-20 171.2 662.3)"/>
<ellipse class="bw" cx="188" cy="665.5" rx="4.6" ry="5.2" transform="rotate(-20 188 665.5)"/>
<ellipse class="k" cx="185.5" cy="666.8" rx="4.6" ry="5.2" transform="rotate(-20 185.5 666.8)"/>
<ellipse class="bw" cx="184.2" cy="667.4" rx="2.8" ry="3.3" transform="rotate(-20 184.2 667.4)"/>
<ellipse class="bw" cx="182.2" cy="668.3" rx="2.8" ry="3.2" transform="rotate(-20 182.2 668.3)"/>
<ellipse class="bw" cx="199" cy="671.5" rx="4.6" ry="5.2" transform="rotate(-20 199 671.5)"/>
<ellipse class="k" cx="196.5" cy="672.8" rx="4.6" ry="5.2" transform="rotate(-20 196.5 672.8)"/>
<ellipse class="bw" cx="195.2" cy="673.4" rx="2.8" ry="3.3" transform="rotate(-20 195.2 673.4)"/>
<ellipse class="bw" cx="193.2" cy="674.3" rx="2.8" ry="3.2" transform="rotate(-20 193.2 674.3)"/>
<ellipse class="l" cx="205.4" cy="681" rx="1.2" ry="1.8" transform="rotate(-20 205.4 681)"/>
<path class="d" d="M140 681L169 665"/>
<path class="d" d="M148 686L180 670.5"/>
<path class="d" d="M156 692L190 676.5"/>
<path class="d" d="M200 648L219 639"/>
<path class="ld" d="M219 639l-3.2 -6.8l5 -2.4"/>
<path class="d" d="M206 654L237 640.5"/>
<path class="d" d="M226 659L229 657.5"/>
<path class="ld" d="M229 657.5l6 8.5"/>
<path class="d" d="M240 664L274 653.5"/>
<path d="M104.5 701.5C90 709 80.5 728 78.6 753.5" fill="none" stroke="#222" stroke-width="8.2"/>
<path d="M104.5 701.5C90 709 80.5 728 78.6 753.5" fill="none" stroke="#fff" stroke-width="4.8"/>
<path d="M113.5 708C99 715 90.5 730 87.9 749.5" fill="none" stroke="#222" stroke-width="8.2"/>
<path d="M113.5 708C99 715 90.5 730 87.9 749.5" fill="none" stroke="#fff" stroke-width="4.8"/>
<path d="M133 716L134.5 738L139.9 759" fill="none" stroke="#222" stroke-width="6.8"/>
<path d="M133 716L134.5 738L139.9 759" fill="none" stroke="#fff" stroke-width="3.6"/>
<path d="M100.5 703.5L108 699.6" stroke="#111" stroke-width="8.6" fill="none"/>
<path d="M100.5 703.5L108 699.6" stroke="#fff" stroke-width="6.3999999999999995" fill="none"/>
<path d="M109.5 710L117 706" stroke="#111" stroke-width="8.6" fill="none"/>
<path d="M109.5 710L117 706" stroke="#fff" stroke-width="6.3999999999999995" fill="none"/>
<path d="M108 699.6L129 688" stroke="#111" stroke-width="6.2" fill="none"/>
<path d="M108 699.6L129 688" stroke="#fff" stroke-width="3.2" fill="none"/>
<path d="M117 706L137 695" stroke="#111" stroke-width="6.2" fill="none"/>
<path d="M117 706L137 695" stroke="#fff" stroke-width="3.2" fill="none"/>
<path class="b" d="M108 697.5l2 4M117 704l2 4M112 695.5l2 4M121 702l2 4"/>
<path class="lw" d="M126.5 706.5L131 703L140 707.5V714.5L136.5 716.5H129.5L126.5 713Z"/>
<path class="l" d="M131 710L140 707.5M131 710V716.5M131 710L126.5 706.5"/>
<path class="lw" d="M138 705.5L148 700.5L150 704.5L140 709.5Z"/>
<path class="lw" d="M130.5 716.5H136.5V736H130.5Z"/>
<ellipse class="bw" cx="133.5" cy="683.2" rx="3.6" ry="5.6" transform="rotate(-25 133.5 683.2)"/>
<ellipse class="bw" cx="131" cy="684.5" rx="3.6" ry="5.6" transform="rotate(-25 131 684.5)"/>
<ellipse class="l" cx="131" cy="684.5" rx="1.7" ry="2.8" transform="rotate(-25 131 684.5)"/>
<ellipse cx="132" cy="684" rx="4.4" ry="6.4" fill="none" stroke="#111" stroke-width="1.8" transform="rotate(-25 132 684)"/>
<ellipse class="bw" cx="142" cy="689.7" rx="3.6" ry="5.6" transform="rotate(-25 142 689.7)"/>
<ellipse class="bw" cx="139.5" cy="691" rx="3.6" ry="5.6" transform="rotate(-25 139.5 691)"/>
<ellipse class="l" cx="139.5" cy="691" rx="1.7" ry="2.8" transform="rotate(-25 139.5 691)"/>
<ellipse cx="140.5" cy="690.5" rx="4.4" ry="6.4" fill="none" stroke="#111" stroke-width="1.8" transform="rotate(-25 140.5 690.5)"/>
<ellipse class="bw" cx="152.5" cy="697.2" rx="3.6" ry="5.6" transform="rotate(-25 152.5 697.2)"/>
<ellipse class="bw" cx="150" cy="698.5" rx="3.6" ry="5.6" transform="rotate(-25 150 698.5)"/>
<ellipse class="l" cx="150" cy="698.5" rx="1.7" ry="2.8" transform="rotate(-25 150 698.5)"/>
<ellipse cx="151" cy="698" rx="4.4" ry="6.4" fill="none" stroke="#111" stroke-width="1.8" transform="rotate(-25 151 698)"/>
<path class="dt" d="M80.7 756L78.5 779"/>
<path class="dt" d="M89.5 752L81.5 779"/>
<path class="dt" d="M139.9 762L139.9 788"/>
<text class="tx" transform="translate(167.5 613.8) scale(0.78 1)" font-size="17.5" text-anchor="start">18</text>
<path class="ld" d="M177 614.4L177 655"/>
<text class="tx" transform="translate(110.4 658.4) scale(0.78 1)" font-size="17.5" text-anchor="start">20</text>
<path class="ld" d="M120 659L120 688"/>
<text class="tx" transform="translate(135.6 652) scale(0.78 1)" font-size="17.5" text-anchor="start">11</text>
<path class="ld" d="M141.6 653L141.6 684"/>
<text class="tx" transform="translate(220 708) scale(0.78 1)" font-size="17.5" text-anchor="start">17</text>
<path class="ld" d="M224 668L224 694"/>
<text class="tx" transform="translate(145.7 747.6) scale(0.78 1)" font-size="17.5" text-anchor="start">19</text>
<path class="ld" d="M152.5 704L152.5 733"/>
<text class="tx" transform="translate(35.5 795) scale(0.86 1)" font-size="16.5" text-anchor="start">tilting pipe</text>
<text class="tx" transform="translate(105.5 804) scale(0.84 1)" font-size="16.5" text-anchor="start">lifting pipe</text>
<text class="tx" transform="translate(191.5 803) scale(0.8 1)" font-size="16.5" text-anchor="start">M</text>
<path class="ld" d="M183.8 805L209 805"/>
<path class="ld" d="M183.8 807.6L209 807.6"/>
<!-- E / G columns -->
<circle class="c" cx="484.6" cy="840" r="10"/>
<text class="tx" transform="translate(484.6 846) scale(0.82 1)" font-size="17" text-anchor="middle" style="stroke-width:0.9">E</text>
<circle class="c" cx="519.4" cy="837.4" r="10"/>
<text class="tx" transform="translate(519.4 843.4) scale(0.82 1)" font-size="17" text-anchor="middle" style="stroke-width:0.9">G</text>
<path class="dd" d="M484.6 851L484.6 879"/>
<path class="dd" d="M518.6 848.5L518.6 879"/>
<ellipse class="o" cx="484.6" cy="884" rx="3.3" ry="1.8"/>
<ellipse class="o" cx="518.6" cy="883.4" rx="3.3" ry="1.8"/>
<path class="lw" d="M482 893.8H487.2V905.2H482Z"/>
<path class="k" d="M480.6 896.9L481.8 895.7H487.4L488.6 896.9V900.7L487.4 901.9H481.8L480.6 900.7Z"/>
<path class="hl" d="M483.4 896.7L483.4 900.9"/>
<path class="hl" d="M486.4 896.7L486.4 900.9"/>
<path class="t" d="M482 903.5L487.2 903.5"/>
<path class="ld" d="M484.6 886L484.6 893.5"/>
<path class="ld" d="M484.6 905.5L484.6 912"/>
<path class="bw" d="M480 912.6H489.2V915.5L487.2 921.5H482L480 915.5Z"/>
<ellipse class="bw" cx="484.6" cy="913" rx="4.6" ry="1.4"/>
<path class="t" d="M483.1 915.5L483.1 921"/>
<path class="t" d="M486.1 915.5L486.1 921"/>
<path class="lw" d="M516 893.8H521.2V905.2H516Z"/>
<path class="k" d="M514.6 896.9L515.8 895.7H521.4L522.6 896.9V900.7L521.4 901.9H515.8L514.6 900.7Z"/>
<path class="hl" d="M517.4 896.7L517.4 900.9"/>
<path class="hl" d="M520.4 896.7L520.4 900.9"/>
<path class="t" d="M516 903.5L521.2 903.5"/>
<path class="ld" d="M518.6 886L518.6 893.5"/>
<path class="ld" d="M518.6 905.5L518.6 912"/>
<path class="bw" d="M514 912.6H523.2V915.5L521.2 921.5H516L514 915.5Z"/>
<ellipse class="bw" cx="518.6" cy="913" rx="4.6" ry="1.4"/>
<path class="t" d="M517.1 915.5L517.1 921"/>
<path class="t" d="M520.1 915.5L520.1 921"/>
<path d="M484.6 921.5V973" fill="none" stroke="#222" stroke-width="4.6"/>
<path d="M484.6 921.5V973" fill="none" stroke="#fff" stroke-width="2.8"/>
<path d="M518.6 921.5V957" fill="none" stroke="#222" stroke-width="4.6"/>
<path d="M518.6 921.5V957" fill="none" stroke="#fff" stroke-width="2.8"/>
<path class="lw" d="M482.3 921.5h4.6v8h-4.6z"/>
<path class="lw" d="M516.3 921.5h4.6v8h-4.6z"/>
<ellipse class="k" cx="484.6" cy="977" rx="5.6" ry="5"/>
<ellipse class="bw" cx="484.6" cy="978" rx="3" ry="2.4"/>
<ellipse class="k" cx="484.6" cy="978.2" rx="1.4" ry="1.1"/>
<ellipse class="k" cx="518.6" cy="960.6" rx="5.6" ry="5"/>
<ellipse class="bw" cx="518.6" cy="961.6" rx="3" ry="2.4"/>
<ellipse class="k" cx="518.6" cy="961.8" rx="1.4" ry="1.1"/>
<path class="ld" d="M518.6 966V986H498.2V996"/>
<path class="dd" d="M484.6 983L484.6 992"/>
<path class="f" d="M419 997.6L443.2 984.8L472.5 996L478 993.5L479 991.2L456 979.7L471.3 972C490 967 515 978 527.6 1004"/>
<path class="f" d="M419 997.6V1001L480.3 1033.5L527.6 1011.3V1007.8M419 997.6L480.3 1030L527.6 1007.8"/>
<path class="f" d="M456 982.5L476 992.5"/>
<path class="lw" d="M482.2 993.5h4.8v3h-4.8z"/>
<path class="bw" d="M480.8 996.5h7.6v5.5l-1.2 2h-5.2l-1.2 -2z"/>
<path class="t" d="M483.3 996.5L483.3 1004"/>
<path class="t" d="M485.9 996.5L485.9 1004"/>
<path class="lw" d="M495.8 995.8h4.8v3h-4.8z"/>
<path class="bw" d="M494.4 998.8h7.6v5.5l-1.2 2h-5.2l-1.2 -2z"/>
<path class="t" d="M496.9 998.8L496.9 1006.3"/>
<path class="t" d="M499.5 998.8L499.5 1006.3"/>
<path class="tw" d="M495.4 1006.3h5.6v18h-5.6z"/>
<ellipse cx="498.2" cy="1019" rx="4" ry="4.5" fill="#ccc" opacity="0.8"/>
<path class="dd" d="M484.6 1006L484.6 1107"/>
<path class="dd" d="M498.2 1026L498.2 1080"/>
<text class="tx" transform="translate(445.8 891.6) scale(0.78 1)" font-size="17.5" text-anchor="start">9</text>
<path class="ld" d="M457.3 883.4L480.3 883.4"/>
<text class="tx" transform="translate(443.2 912) scale(0.78 1)" font-size="17.5" text-anchor="start">31</text>
<path class="ld" d="M458 903.8L480.3 903.8"/>
<text class="tx" transform="translate(444.5 964.6) scale(0.78 1)" font-size="17.5" text-anchor="start">23</text>
<path class="ld" d="M459.8 958.8L482 958.8"/>
<text class="tx" transform="translate(534.7 1010.4) scale(0.78 1)" font-size="17.5" text-anchor="start">18</text>
<path class="ld" d="M502.2 1003.2H530"/>
<text class="tx" transform="translate(560.8 1018.8) scale(0.78 1)" font-size="17.5" text-anchor="start">4</text>
<path class="ld" d="M565 1020.3L565 1049.3"/>
<!-- hoses 4 -->
<path d="M498.4 1088V1094C498.4 1101 503 1103.5 510.3 1100L521.6 1094.4C535 1078 548 1062 566.7 1047.7C580 1039 600 1030 627.9 1019.3L634 1017" fill="none" stroke="#222" stroke-width="5.2"/>
<path d="M498.4 1088V1094C498.4 1101 503 1103.5 510.3 1100L521.6 1094.4C535 1078 548 1062 566.7 1047.7C580 1039 600 1030 627.9 1019.3L634 1017" fill="none" stroke="#fff" stroke-width="3"/>
<path d="M485.1 1115V1122C485.1 1130 490 1132.5 497.4 1128.5L508.7 1123L550.6 1100.8L598.9 1073.4L647.2 1046L668.2 1038L676 1034.8" fill="none" stroke="#222" stroke-width="5.2"/>
<path d="M485.1 1115V1122C485.1 1130 490 1132.5 497.4 1128.5L508.7 1123L550.6 1100.8L598.9 1073.4L647.2 1046L668.2 1038L676 1034.8" fill="none" stroke="#fff" stroke-width="3"/>
<path d="M510.5 1099.8L521.6 1094.4" stroke="#222" stroke-width="6.4" fill="none"/>
<path d="M510.5 1099.8L521.6 1094.4" stroke="#fff" stroke-width="4.4" fill="none"/>
<path class="l" d="M511.9 1102.7L509.1 1096.9"/>
<path class="l" d="M523 1097.3L520.2 1091.5"/>
<path d="M497.6 1128.4L508.7 1123" stroke="#222" stroke-width="6.4" fill="none"/>
<path d="M497.6 1128.4L508.7 1123" stroke="#fff" stroke-width="4.4" fill="none"/>
<path class="l" d="M499 1131.3L496.2 1125.5"/>
<path class="l" d="M510.1 1125.9L507.3 1120.1"/>
<path d="M627 1019.7L634.5 1016.8" stroke="#222" stroke-width="6.4" fill="none"/>
<path d="M627 1019.7L634.5 1016.8" stroke="#fff" stroke-width="4.4" fill="none"/>
<path class="l" d="M628.2 1022.7L625.8 1016.7"/>
<path class="l" d="M635.7 1019.8L633.3 1013.8"/>
<path d="M668 1038L676 1034.8" stroke="#222" stroke-width="6.4" fill="none"/>
<path d="M668 1038L676 1034.8" stroke="#fff" stroke-width="4.4" fill="none"/>
<path class="l" d="M669.2 1041L666.8 1035"/>
<path class="l" d="M677.2 1037.8L674.8 1031.8"/>
<path class="bw" d="M494.2 1082.7L495.4 1081.1H501.4L502.6 1082.7V1086.2L500.9 1088.5H495.9L494.2 1086.2Z"/>
<ellipse class="l" cx="498.4" cy="1082.5" rx="3.4" ry="1.3"/>
<path class="bw" d="M480.9 1109.5L482.1 1107.9H488.1L489.3 1109.5V1113L487.6 1115.3H482.6L480.9 1113Z"/>
<ellipse class="l" cx="485.1" cy="1109.3" rx="3.4" ry="1.3"/>
<ellipse class="k" cx="638.2" cy="1015" rx="3.8" ry="5" transform="rotate(-25 638.2 1015)"/>
<ellipse class="g" cx="638.7" cy="1015" rx="1.4" ry="2.2" transform="rotate(-25 638.7 1015)"/>
<ellipse class="k" cx="680.3" cy="1033" rx="3.8" ry="5" transform="rotate(-25 680.3 1033)"/>
<ellipse class="g" cx="680.8" cy="1033" rx="1.4" ry="2.2" transform="rotate(-25 680.8 1033)"/>
<g transform="rotate(-27 652.4 1008.6)">
<path class="lw" d="M645.4 1006.2H659.4V1011H645.4Z"/>
<path class="k" d="M648.6 1003.8H655.2V1013.4H648.6Z"/>
<path class="hl" d="M649.4 1007.4L654.4 1007.4"/>
<path class="hl" d="M649.4 1010.2L654.4 1010.2"/>
</g>
<g transform="rotate(-27 695 1025.8)">
<path class="lw" d="M688 1023.4H702V1028.2H688Z"/>
<path class="k" d="M691.2 1021H697.8V1030.6H691.2Z"/>
<path class="hl" d="M692 1024.6L697 1024.6"/>
<path class="hl" d="M692 1027.4L697 1027.4"/>
</g>
<ellipse class="o" cx="672.9" cy="997.6" rx="2.6" ry="3.6" transform="rotate(-25 672.9 997.6)"/>
<ellipse class="o" cx="715.8" cy="1015.3" rx="2.6" ry="3.6" transform="rotate(-25 715.8 1015.3)"/>
<ellipse cx="672.9" cy="997.6" rx="2.6" ry="3.6" fill="none" stroke="#111" stroke-width="2" transform="rotate(-25 672.9 997.6)"/>
<ellipse cx="715.8" cy="1015.3" rx="2.6" ry="3.6" fill="none" stroke="#111" stroke-width="2" transform="rotate(-25 715.8 1015.3)"/>
<path class="ld" d="M642 1013.2L646 1011.4"/>
<path class="ld" d="M659 1005.5L669 1000"/>
<path class="dd" d="M677.6 994.5L704 982"/>
<path class="ld" d="M684.5 1031L688.5 1029"/>
<path class="ld" d="M701.5 1022.5L711 1018"/>
<path class="d" d="M696.2 996L724.2 1011.6L719 1014"/>
<path class="d" d="M696.2 996L718 985.7"/>
<text class="tx" transform="translate(690.7 1060) scale(0.78 1)" font-size="17.5" text-anchor="start">8</text>
<path class="ld" d="M695.6 1031.6L695.6 1044.4"/>
<text class="tx" transform="translate(711.7 1050.2) scale(0.78 1)" font-size="17.5" text-anchor="start">9</text>
<path class="ld" d="M716.5 1020.3L716.5 1034.8"/>
<text class="tx" transform="translate(545.7 1149.2) scale(0.78 1)" font-size="17.5" text-anchor="start">4</text>
<path class="ld" d="M549.9 1104L549.9 1133"/>
<text class="tx" transform="translate(503.6 1199.6) scale(0.8 1)" font-size="16.5" text-anchor="start">N</text>
<path class="ld" d="M495.7 1201.5L521 1201.5"/>
<path class="ld" d="M495.7 1204.3L521 1204.3"/>
<!-- cylinder 16 -->
<path class="lw" d="M606 906.7L749.1 979.5L736 995.1L601.3 926.9Z"/>
<path class="lw" d="M606 906.7C600 903.5 593 904 590.5 906C588 908 588.5 913 591.5 916L598 921.5L601.3 926.9"/>
<path class="l" d="M606 906.7C602 910 599 918 601.3 926.9"/>
<path class="l" d="M589.5 906.5C591 902.5 597 901.5 601 904.5L606 906.7"/>
<ellipse class="bw" cx="596" cy="908" rx="4" ry="2.8" transform="rotate(20 596 908)"/>
<path d="M607.6 930.5C620 941 640 953 660 962C680 971 695 975.5 707 979.5" fill="none" stroke="#222" stroke-width="3.2"/>
<path d="M607.6 930.5C620 941 640 953 660 962C680 971 695 975.5 707 979.5" fill="none" stroke="#fff" stroke-width="1.6"/>
<path class="lw" d="M602 925h5.5v8h-5.5z"/>
<ellipse class="bw" cx="742.3" cy="987" rx="4.2" ry="10.2" transform="rotate(26.9 742.3 987)"/>
<path class="lw" d="M744.5 980.5L753 984.7L750 997.2L741.5 993Z"/>
<ellipse class="l" cx="744" cy="987.6" rx="3" ry="6.6" transform="rotate(26.9 744 987.6)"/>
<path class="b" d="M744.5 980.5L753 984.7M741.5 994L750 998"/>
<path class="bw" d="M753.5 990.5V999.5C754 1005 768 1005 768.5 999.5V990.5Z"/>
<ellipse class="bw" cx="761" cy="990.5" rx="7.5" ry="4.6"/>
<ellipse class="bw" cx="761.3" cy="990.6" rx="3.6" ry="2.3"/>
<path class="lw" d="M703 979L712 974.8C714.5 974.5 716 977.5 714.5 979.5L705.5 983.8Z"/>
<ellipse class="bw" cx="704.3" cy="981.4" rx="1.7" ry="2.6" transform="rotate(-25 704.3 981.4)"/>
<path class="lw" d="M716 985L725.5 980.5C728 980.2 729.5 983.5 728 985.5L718.5 990Z"/>
<ellipse class="bw" cx="717.2" cy="987.5" rx="1.7" ry="2.6" transform="rotate(-25 717.2 987.5)"/>
<text class="tx" transform="translate(702.5 945.3) scale(0.78 1)" font-size="17.5" text-anchor="start">16</text>
<path class="ld" d="M669.8 937.8L697.8 937.8"/>
<path class="f" d="M566 893L572 889.5L585.5 895V903L579.5 906.5L566 901ZM566 901V911L579.5 916.5V906.5M585.5 903V912.5L579.5 916.5M572 889.5V897.5L566 901M572 897.5L585.5 903"/>
<ellipse class="bw" cx="579.6" cy="902" rx="3.2" ry="2"/>
<ellipse class="bw" cx="579.6" cy="911" rx="3.2" ry="2"/>
<path class="dd" d="M579.6 914L579.6 928"/>
<ellipse class="bw" cx="579.6" cy="933.8" rx="4.4" ry="2.6"/>
<ellipse class="k" cx="579.6" cy="933.8" rx="2" ry="1.1"/>
<ellipse cx="579.6" cy="933.8" rx="3.4" ry="1.9" fill="none" stroke="#444" stroke-width="1.2"/>
<path class="dd" d="M579.6 940L579.6 949"/>
<ellipse class="o" cx="579.6" cy="954.6" rx="3.6" ry="2.2"/>
<path class="dd" d="M579.6 960L579.6 969"/>
<path class="bw" d="M577.2 972.5C577.2 970.5 582.6 970.5 582.6 972.5V978L581.6 980V989.5H578.2V980L577.2 978Z"/>
<path class="k" d="M575 990.5H585V995.5L583.5 997H576.5L575 995.5Z"/>
<text class="tx" transform="translate(617.5 994.5) scale(0.78 1)" font-size="17.5" text-anchor="start">15</text>
<path class="ld" d="M584.8 987.6L613.8 987.6"/>
<path class="bw" d="M754 914.5L755.5 913H763L764.5 914.5V918.5L763 920H755.5L754 918.5Z"/>
<path class="bw" d="M756 920H762.8V931L761 933V940H757.8V933L756 931Z"/>
<path class="dd" d="M759.4 941.5L759.4 948"/>
<path class="dd" d="M759.4 954.5L759.4 966.5"/>
<path class="dd" d="M759.4 975L759.4 984"/>
<path class="dd" d="M759.4 1006.9L759.4 1016.2"/>
<ellipse class="o" cx="759.4" cy="950.9" rx="4.4" ry="2.2"/>
<ellipse class="bw" cx="759.4" cy="970.5" rx="5" ry="2.8"/>
<ellipse class="l" cx="759.4" cy="970.9" rx="2.5" ry="1.3"/>
<path d="M754.4 970.5A5 2.8 0 0 0 764.4 970.5" fill="none" stroke="#111" stroke-width="2.2"/>
<text class="tx" transform="translate(795.8 934.4) scale(0.78 1)" font-size="17.5" text-anchor="start">15</text>
<path class="ld" d="M764.7 927L791 927"/>
<text class="tx" transform="translate(795.8 958.7) scale(0.78 1)" font-size="17.5" text-anchor="start">14</text>
<path class="ld" d="M764 951.5L792.7 951.5"/>
<text class="tx" transform="translate(795.8 979.5) scale(0.78 1)" font-size="17.5" text-anchor="start">13</text>
<path class="ld" d="M764.7 971L792.7 971"/>
<!-- truck frame (dashed) -->
<path class="f" d="M71 920.4L223.1 846.9"/>
<path class="f" d="M80 923.3L235.6 853.1"/>
<path class="f" d="M89.3 929L238.2 858.4"/>
<path class="fb" d="M71 921L72.5 919.6L77.8 919.6L89.3 928.4"/>
<path class="fb" d="M106 903.5l3.5 3.5M114.5 899.5l4 4M176 871.5l4 3.5M186 866l4.5 4.5"/>
<path class="f" d="M71 921L71 1094"/>
<path class="fb" d="M89.3 928.4L89.3 1057.6"/>
<path class="fb" d="M66.5 948.5h3v6h-3z"/>
<path class="fb" d="M223.1 846.9L253.3 861.1M264 865.6L278.2 878L296 895.8L310.2 911.8Q313.6 916 313.8 922L313.4 1036.4"/>
<path class="fb" d="M253.3 861.1L256 861L258.5 871.5L261.5 872L263 865.2"/>
<path class="f" d="M222 846.2C223.5 844.5 226.5 845 227 847.5"/>
<path class="f" d="M236 853.5Q239 855 238.8 859"/>
<path class="ft" d="M238.8 859L238.8 898.4"/>
<path class="fb" d="M142.1 948L274.7 882.4"/>
<path class="fb" d="M275 883.5l7 -3l2 2.5l-6 3zM277 888l6 -3l1.5 2.5l-6 3z"/>
<path class="ft" d="M274.7 890.4L274.7 1017.8"/>
<path class="f" d="M143.6 943.6Q145 940.5 149 938.6L176 925.5"/>
<path class="dd" d="M299.2 886.5L299.2 1036.4"/>
<path class="f" d="M306.7 968L306.7 1030"/>
<path class="fb" d="M310.6 968L310.6 1034"/>
<path class="fb" d="M291.6 934.9L297.5 940.5M293.6 932.9L299.5 938.5"/>
<path class="fb" d="M301.5 943.9L307.6 949.9M303.5 941.9L309.6 947.9"/>
<path class="fb" d="M291.6 954.5L297.5 960.1M293.6 952.5L299.5 958.1"/>
<path class="fb" d="M301.5 963.5L307.6 969.5M303.5 961.5L309.6 967.5"/>
<path class="fb" d="M291.6 974L297.5 979.6M293.6 972L299.5 977.6"/>
<path class="fb" d="M301.5 983L307.6 989M303.5 981L309.6 987"/>
<path class="fb" d="M291.6 993.5L297.5 999.1M293.6 991.5L299.5 997.1"/>
<path class="fb" d="M301.5 1002.5L307.6 1008.5M303.5 1000.5L309.6 1006.5"/>
<path class="fb" d="M305 966l4 -2.5v6.5l-4 2.5z"/>
<path class="fb" d="M305 1002l4 -2.5v6.5l-4 2.5z"/>
<path class="f" d="M128.4 1076.2V955L133.8 952.4L138.2 960.4"/>
<path class="fb" d="M138.2 960.4L138.2 1094.9"/>
<path class="ft" d="M142.1 958.7L142.1 1092"/>
<path class="fb" d="M131 955.5l4 -2l3 3l-4 2.5zM142 952l4 -2l2.5 2.5l-3.5 2.5z"/>
<path class="fb" d="M145.3 954.2L170.2 978.2Q174.5 982 174.7 988L174.7 1106.4"/>
<path class="f" d="M178.6 1012L178.6 1100"/>
<path class="fb" d="M175.5 1033l3.5 -2v5.5l-3.5 2z"/>
<path class="fb" d="M175.5 1071.6l3.5 -2v5.5l-3.5 2z"/>
<ellipse class="k" cx="152.1" cy="983.6" rx="1.3" ry="1.6"/>
<ellipse class="k" cx="159.6" cy="987.1" rx="1.3" ry="1.6"/>
<ellipse class="k" cx="166.7" cy="990.7" rx="1.3" ry="1.6"/>
<ellipse class="k" cx="152.1" cy="991.6" rx="1.3" ry="1.6"/>
<ellipse class="k" cx="159.6" cy="995.1" rx="1.3" ry="1.6"/>
<ellipse class="k" cx="166.7" cy="998.7" rx="1.3" ry="1.6"/>
<path class="fb" d="M152.4 1005.8L168.4 1019M154.2 1003.2L170 1016.2"/>
<path class="fb" d="M152.4 1026L168.4 1039.2M154.2 1023.4L170 1036.4"/>
<path class="fb" d="M152.4 1046L168.4 1059.2M154.2 1043.4L170 1056.4"/>
<path class="fb" d="M152.4 1066L168.4 1079.2M154.2 1063.4L170 1076.4"/>
<path class="f" d="M158.7 968.4L160.5 962.6L167 962.2L167.6 968.4"/>
<path class="f" d="M165 941.5L176.5 935.5L182.5 937.5L182.7 942.5L171 948L165 946ZM168 944.5l11 -5.5M170.5 946.5l11 -5.5"/>
<path class="f" d="M182.7 954.5L189 950.7L192.4 952.5V969L186 972L182.7 970ZM184.5 958h6M184.5 963h6M184.5 967h6"/>
<path class="f" d="M199.6 952.5L205 948.9L208.4 950.5V965.5L203 968.4L199.6 966.5ZM201 956h6M201 961h6"/>
<path class="ld" d="M186 966l8 3M201 968l11 5"/>
<circle class="k" cx="105.9" cy="932.9" r="0.9"/>
<circle class="k" cx="123.1" cy="947.6" r="0.9"/>
<circle class="k" cx="123.1" cy="996.9" r="0.9"/>
<circle class="k" cx="202.2" cy="977.3" r="0.9"/>
<circle class="k" cx="216" cy="958.7" r="0.9"/>
<circle class="k" cx="216" cy="988.4" r="0.9"/>
<circle class="k" cx="202.2" cy="1003" r="0.9"/>
<circle class="k" cx="217.8" cy="877.6" r="0.9"/>
<circle class="k" cx="246.6" cy="862.9" r="0.9"/>
<circle class="k" cx="246.6" cy="882.4" r="0.9"/>
<circle class="k" cx="256" cy="900.2" r="0.9"/>
<circle class="k" cx="256" cy="906.4" r="0.9"/>
<circle class="k" cx="244.4" cy="907.9" r="0.9"/>
<circle class="k" cx="219.9" cy="919.8" r="0.9"/>
<circle class="k" cx="244.4" cy="931.7" r="0.9"/>
<circle class="k" cx="219.9" cy="943.8" r="0.9"/>
<circle class="k" cx="269.3" cy="961.6" r="0.9"/>
<circle class="k" cx="287.1" cy="918" r="0.9"/>
<circle class="k" cx="304.9" cy="927.4" r="0.9"/>
<circle class="k" cx="76" cy="928" r="0.9"/>
<circle class="k" cx="76" cy="947" r="0.9"/>
<circle class="k" cx="104.5" cy="1043.7" r="0.9"/>
<circle class="k" cx="188" cy="1015" r="0.9"/>
<path class="fb" d="M89.3 1057.6L128.4 1076.2"/>
<path class="f" d="M98.2 1061.1L128.4 1046.9"/>
<path class="f" d="M272 1017.8L180 1066"/>
<path class="fb" d="M70.7 1008.7L37.8 1023.8Q32.6 1026.5 32.4 1033V1075.3"/>
<path class="f" d="M34.5 1034L70.7 1014.9"/>
<path class="fb" d="M32.4 1036.2L70.7 1054"/>
<path class="fb" d="M60 1012l3 -3l3 2l-1 5l-4 1zM62 1043c2 -3 5 -2 6 1M62 1049l7 4"/>
<path class="f" d="M74.5 1078.5c3 -1 4 2 2 3.5"/>
<path class="f" d="M32.4 1075.3L70.7 1094L95.6 1109.1L253.8 1187.3"/>
<path class="fb" d="M95.6 1074.4L95.6 1109.1"/>
<path class="fb" d="M97.6 1080L97.6 1106"/>
<path class="f" d="M95.6 1075.3L138.2 1094.9L174.7 1106.4"/>
<path class="f" d="M174.7 1106.4l4.5 -2.5v-4l-3 -1.5"/>
<path class="f" d="M178 1101.9L315.1 1168.7"/>
<path class="f" d="M140 1093L267.1 1152.7"/>
<path class="f" d="M96 1077.5L272.4 1162.4"/>
<path class="f" d="M98.2 1082.4L263.6 1163.3"/>
<path class="f" d="M267.1 1152.7L274.2 1147.3L320.4 1169.6V1176.7L313.3 1174.9L267.1 1156.5Z"/>
<path class="fb" d="M274.2 1147.3L267.1 1152.7V1156.5"/>
<path class="f" d="M313.3 1175V1207.8M316 1177V1200L321 1202.5V1206L316.5 1208.5L313 1207.8"/>
<path class="f" d="M253.8 1196V1187Q254.5 1176 263.6 1170.4Q271 1165 279.6 1164.2Q296 1164 304.4 1173.1Q311 1180 312.4 1187"/>
<path class="f" d="M272.4 1189.1Q271.5 1180 274.2 1174.9Q283 1172 289 1183L293.8 1196"/>
<path class="f" d="M253.8 1197.1L272.4 1189.1M283.1 1202.4L312.4 1188.2M293.8 1198L312.4 1207.8"/>
<path class="lw" d="M273.5 1199.5L278.5 1196.5Q282 1196 283 1199.5V1202L278 1204.8Q274 1204.5 273.5 1201Z"/>
<ellipse class="l" cx="276" cy="1200.8" rx="2.4" ry="3" transform="rotate(-20 276 1200.8)"/>
<path class="k" d="M279 1167l4 -2l1 2.5zM291.5 1196.5l3 -2.5l1 3.5z"/>
<path class="f" d="M272 1017.8L313.8 1036.4"/>
<path class="f" d="M262.2 1024L301.3 1040.9"/>
<path class="f" d="M264 1026.7L299.6 1041.8"/>
<path class="f" d="M299.6 1041.8L307.6 1037.5V1033L303 1031"/>
<path class="f" d="M262.2 1024L236.4 1038.2"/>
<path class="f" d="M266 1021l6 3M268 1019.5l6 3"/>
<path class="f" d="M313.8 1031.1L451.2 1101.7"/>
<path class="fb" d="M313.8 1036.8L447.3 1104.8"/>
<path class="f" d="M301.3 1040.9L445.8 1113.3"/>
<path class="f" d="M248 1031.1L448.9 1131.2"/>
<path class="f" d="M242.7 1035.6L444.2 1135.9"/>
<path class="f" d="M236.4 1038.2L442.7 1141.3"/>
<path class="f" d="M451.2 1101.7V1137.5L447 1141.5L442.7 1141.3M454.3 1103.5V1136"/>
<path class="fb" d="M445.8 1104.5l4 1.5v7l-4 -1.5zM443.5 1134.5l4 1.5v5l-4 -1z"/>
<path class="f" d="M399.9 1083.8L407.5 1079.6M399.9 1083.8V1086.5L447 1109.5"/>
<path class="f" d="M428.7 1086.9Q436 1081.5 445.8 1082.2Q458 1083.5 465 1094Q470 1101 471.4 1107.9L455.1 1116.4"/>
<path class="k" d="M426.5 1088.5l5 -3l1 3z"/>
<path class="f" d="M428 1119l4 -4l2 5l4 1"/>
<circle class="c" cx="299.3" cy="875.5" r="10"/>
<text class="tx" transform="translate(299.3 881.5) scale(0.82 1)" font-size="17" text-anchor="middle" style="stroke-width:0.9">L</text>
<circle class="c" cx="236.3" cy="982.9" r="10"/>
<text class="tx" transform="translate(236.3 988.9) scale(0.82 1)" font-size="17" text-anchor="middle" style="stroke-width:0.9">H</text>
<circle class="l" cx="162.8" cy="993.3" r="24.9"/>
<text class="tx" transform="translate(203 1034.2) scale(0.8 1)" font-size="16.5" text-anchor="start">M</text>
<path class="ld" d="M185.3 1004L202.2 1020.9"/>
<path class="ld" d="M208 970.5L224.5 979"/>
</g></svg>
</body></html>
